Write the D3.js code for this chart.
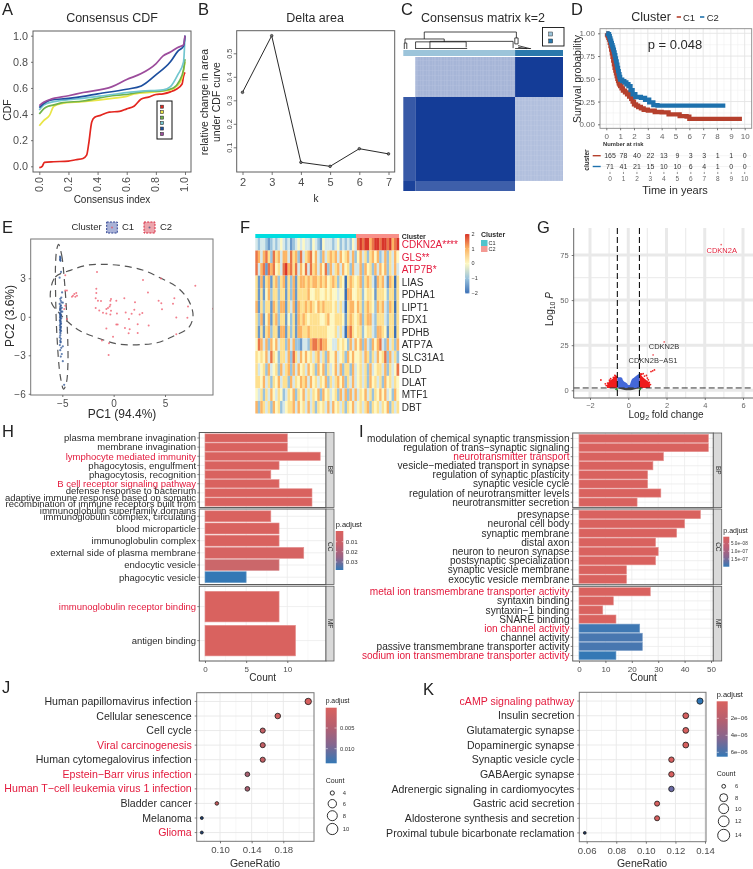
<!DOCTYPE html>
<html><head><meta charset="utf-8">
<script src="https://cdnjs.cloudflare.com/ajax/libs/d3/7.8.5/d3.min.js"></script>
<style>
html,body{margin:0;padding:0;background:#fff}
svg{display:block;filter:blur(.3px)}
text{font-family:"Liberation Sans",Arial,sans-serif}
</style></head><body>
<script>
/* ---------- A: consensus CDF ---------- */
const cdfRed=[[0,-.01],[.02,0],[.035,.03],[.1,.035],[.2,.04],[.25,.05],[.3,.06],[.325,.085],[.34,.18],[.36,.34],[.38,.375],[.42,.39],[.48,.415],[.55,.42],[.6,.44],[.65,.46],[.7,.515],[.75,.53],[.8,.55],[.85,.555],[.9,.57],[.94,.59],[.98,.63],[.99,.69],[1,.72]];
const cdfYellow=[[0,.31],[.03,.35],[.07,.39],[.1,.46],[.15,.48],[.3,.495],[.5,.52],[.6,.535],[.65,.555],[.8,.57],[.9,.585],[.95,.62],[.98,.68],[1,.8]];
const cdfGreen=[[0,.4],[.03,.44],[.06,.46],[.1,.47],[.15,.485],[.3,.5],[.5,.54],[.6,.55],[.7,.57],[.85,.58],[.92,.6],[.96,.65],[.99,.74],[1,.82]];
const cdfCyan=[[0,.43],[.03,.47],[.1,.495],[.2,.51],[.3,.52],[.5,.55],[.7,.575],[.85,.585],[.9,.61],[.95,.7],[.99,.8],[1,1]];
const cdfBlue=[[0,.45],[.03,.48],[.07,.505],[.2,.52],[.3,.535],[.4,.555],[.6,.59],[.7,.615],[.8,.7],[.9,.8],[.95,.88],[.99,.92],[1,1]];
const cdfPurple=[[0,.465],[.03,.49],[.07,.51],[.2,.54],[.3,.565],[.5,.61],[.6,.665],[.7,.71],[.8,.785],[.85,.845],[.9,.875],[.95,.91],[.99,.93],[1,1]];
const cdfSeries=[cdfRed,cdfYellow,cdfGreen,cdfCyan,cdfBlue,cdfPurple];
const cdfColors=["#e3261f","#e9e546","#6fb24a","#72c6cf","#1d4f9f","#9c4c9c"];
const cdfTicks=[0,.2,.4,.6,.8,1];

/* ---------- B: delta area ---------- */
const deltaK=[2,3,4,5,6,7];
const deltaV=[.334,.575,.036,.019,.094,.072];
const deltaTicks=[.1,.2,.3,.4,.5];

/* ---------- C: consensus matrix ---------- */
const matColSizes=[12,100,48];
const matRowSizes=[40,84,10];
const matValues=[[0,.38,1],[.85,1,.33],[.97,.82,0]];
const matTopColors=["#9cc4da","#2a78ac"];
const dendroSegs=[[21,1,113.3,1],[21,1,21,.59],[1.7,.59,41,.59],[1.7,.59,1.7,.35],[1,.35,3.5,.35],[1,.35,1,0],[3.5,.35,3.5,0],[41,.59,41,.42],[12.3,.42,63,.42],[12.3,.42,12.3,.02],[63,.42,63,.1],[26.7,.45,110,.45],[26.7,.45,26.7,.05],[110,.45,110,.05],[113.3,1,113.3,.65],[111.7,.65,115,.65],[111.7,.65,111.7,.3],[115,.65,115,.3],[111.7,.3,115,.3],[115,.2,127,.02],[115,.1,124,.02],[12,.03,64,.03],[112,.03,128,.03]];

/* ---------- D: survival ---------- */
const kmC1=[[0,1],[.05,.985],[.1,.97],[.15,.95],[.2,.93],[.25,.895],[.3,.86],[.35,.82],[.4,.78],[.45,.74],[.5,.7],[.55,.66],[.6,.62],[.65,.59],[.7,.56],[.75,.53],[.8,.5],[.85,.475],[.9,.45],[.95,.435],[1,.42],[1.1,.395],[1.2,.37],[1.35,.35],[1.5,.33],[1.65,.305],[1.8,.28],[1.9,.25],[2,.22],[2.15,.205],[2.3,.19],[2.5,.175],[2.7,.16],[3,.15],[3.5,.135],[4,.13],[4.5,.11],[5,.11],[5.3,.09],[5.8,.085],[6,.06],[9.8,.06]];
const kmC2=[[0,1],[.1,.99],[.2,.97],[.25,.945],[.3,.92],[.35,.895],[.4,.87],[.45,.845],[.5,.82],[.55,.79],[.6,.76],[.65,.725],[.7,.69],[.75,.655],[.8,.62],[.85,.585],[.9,.55],[.95,.52],[1,.49],[1.15,.475],[1.3,.46],[1.45,.44],[1.6,.42],[1.75,.375],[1.9,.33],[2.1,.3],[2.5,.29],[2.8,.27],[3.1,.24],[3.4,.21],[3.7,.205],[8.6,.205]];
const riskTimes=[0,1,2,3,4,5,6,7,8,9,10];
const riskC1=[165,78,40,22,13,9,3,3,1,1,0];
const riskC2=[71,41,21,15,10,10,6,4,1,0,0];
const kmYTicks=[0,.25,.5,.75,1];

/* ---------- E: PCA ---------- */
const pcaC2=[[-1.62,3.49],[-1.69,2.18],[-1.69,1.86],[-1.75,1.44],[-1.53,1.26],[-1.23,1.23],[-1.75,.68],[-1.4,.5],[-1.04,.31],[-.71,.26],[-.32,.18],[-.26,.47],[-.71,.6],[-.55,.68],[-.39,.81],[-.32,.94],[-.26,1.39],[-.32,1.26],[.26,1.26],[1.04,1.44],[2.08,1.13],[2.01,.55],[1.17,.34],[1.75,.24],[2.53,.18],[2.79,.29],[.32,.26],[1.49,-.18],[-.71,-.92],[.26,-.6],[.39,-.6],[1.1,-.87],[1.56,-.97],[1.46,-1.29],[2.34,-.58],[2.34,-1.26],[3.41,-.68],[-.06,-1.55],[-1.14,-1.84],[-.45,-2.07],[-.49,-2.97],[2.86,2.86],[4.61,2.99],[3.34,1.89],[4.38,1.26],[4.64,1.05],[4.71,.58],[5.91,1.44],[5.78,1.02],[7.24,.81],[7.95,2.41],[6.1,-.05],[7.18,-.08],[9.68,.63],[6.1,-1.36],[-4.06,1.57],[-3.96,1.65],[-3.83,1.78],[-3.64,1.86],[-3.57,1.65],[-3.73,1.57],[-4.71,2.05],[-4.55,2.05],[-4.71,3.23],[-4.55,-.18],[-4.71,.86],[-4.81,.6]];
const pcaC1=[[-5.2,4.62],[-5.18,4.55],[-5.22,4.48],[-5.2,4.42],[-5.17,4.36],[-5.22,4.7],[-5.12,3.5],[-5.26,3.05],[-5.02,1.9],[-5.1,1.5],[-5.2,1.4],[-5.15,1.25],[-5.08,1.12],[-5.25,1],[-5.14,.9],[-5.2,.75],[-5.05,.7],[-5.16,.6],[-5.22,.52],[-5.1,.42],[-5.18,.33],[-5.24,.25],[-5.12,.18],[-5.2,.1],[-5.15,.02],[-5.22,-.05],[-5.1,-.12],[-5.18,-.2],[-5.24,-.28],[-5.15,-.36],[-5.2,-.44],[-5.12,-.52],[-5.18,-.6],[-5.24,-.68],[-5.14,-.76],[-5.2,-.84],[-5.16,-.92],[-5.22,-1],[-5.12,-1.1],[-5.2,-1.45],[-5.24,-1.6],[-5.14,-1.72],[-5.2,-1.85],[-5.17,-2],[-5.24,-2.2],[-5.1,-2.42],[-5.2,-2.6],[-5.05,-2.9],[-4.95,-3.46],[-5.15,-3.1],[-4.82,-5.3],[-4.95,-2.3],[-5,.4],[-4.95,1.1],[-5.18,.05],[-5.2,-.3],[-5.17,-.55],[-5.15,-.8],[-5.2,-1.2],[-5.18,-1.3],[-5.16,-1.95],[-5.18,-.1],[-5.2,.2],[-5.22,.62],[-5.16,.85],[-5.18,-1.05]];
const ellipseC2=[[-6.17,1.78],[-5.68,3.1],[-4.22,3.62],[-2.6,4.02],[-.97,4.09],[.97,3.96],[2.92,3.62],[4.55,3.02],[6.17,2.31],[7.31,1.26],[7.73,.08],[7.31,-.84],[5.84,-1.5],[4.22,-2.02],[2.27,-2.18],[.32,-2.1],[-1.62,-1.63],[-3.25,-1.1],[-4.38,-.45],[-5.36,.34],[-6,1]];
const ellipseC1=[[-5.36,5.64],[-5.06,4.8],[-4.81,2.97],[-4.55,-.18],[-4.45,-3.6],[-4.61,-5.17],[-4.87,-5.64],[-5.19,-4.65],[-5.52,-1.5],[-5.65,1.65],[-5.65,4.28],[-5.52,5.33]];

/* ---------- F: heatmap (digit 0..8 stands for -2..2) ---------- */
const heatGenes=["CDKN2A****","GLS**","ATP7B*","LIAS","PDHA1","LIPT1","FDX1","PDHB","ATP7A","SLC31A1","DLD","DLAT","MTF1","DBT"];
const heatRed=new Set(["CDKN2A****","GLS**","ATP7B*"]);
const heatRows=[
"32332123234323123434332432143332342323243"+"78788678878878678",
"76367527563663756273567463263565636456362"+"46352564623625364",
"73671767453786757364737563647263563645263"+"36264526364625363",
"51615615625615261566565665656456525405654"+"56256531656316505",
"51514625525515261555564455445454434406644"+"55245541555425515",
"61525516526615361655656546565554535305664"+"65256542656326505",
"52614615625514251656545555445644555415654"+"56256632555325515",
"51515625516615251665565555555444535306754"+"55245532665415505",
"47636264635526362213326776766443354542636"+"46263264673263526",
"54546375425536275364645356352644634526464"+"45365253645726352",
"53452634526356263645364526462534636255263"+"45352634553625347",
"55463525463552635465636453546253564625363"+"45352645352645354",
"43525364354235462546353546264534526362636"+"35463525464634264",
"62653526452345563645363525453636453525463"+"45356254535462535"];
const heatLevels=[-2,-1.5,-1,-.5,0,.5,1,1.5,2];
const heatBar=[2,1,0,-1,-2];

/* ---------- G: volcano ---------- */
const volcLabels=[["CDKN2A",4.86,80.8,"#e3263f"],["CDKN2B",1.88,26.8,"#333"],["CDKN2B\u2212AS1",1.3,19.6,"#333"]];
const volcBlueTop=[[-.57,7.2],[-.45,7.2],[-.33,7],[-.28,5.7],[-.15,4.4],[-.07,3.9],[0,2.9],[.07,2.9],[.13,4.6],[.19,6.1],[.3,7],[.37,7.6],[.45,8.4],[.52,8.8],[.59,9.4]];
const volcBase=1.3;
const volcLeftTop=[[-1.11,3],[-1.02,4.8],[-.85,6.1],[-.72,7.6],[-.66,8.5],[-.57,7.6]];
const volcRightTop=[[.58,9.4],[.68,8.4],[.76,7.4],[.89,6.1],[1.02,5],[1.12,4],[1.14,2.2]];
const volcGrey=[[-.62,1.3],[-.4,.7],[-.2,.2],[0,0],[.2,.2],[.4,.7],[.62,1.3]];
const volcRedDots=[[-1.43,5.7],[-1.2,3.6],[-1.15,2.6],[-1.08,4],[-.98,5.6],[-.92,6.4],[-.78,7.2],[-.7,8.3],[-.65,6.9],[1.19,10.4],[1.37,11.3],[1.28,10.8],[.78,9.2],[.95,8.2],[.85,7.9],[.66,9.1],[1.05,5.8],[1.1,4.4],[1.16,3.2],[.7,8.9],[1,6.8]];
const volcGreen=[[-.64,.6],[-.6,.9],[-.59,.4],[.6,.8],[.62,.5],[.64,1]];
const volcXTicks=[-2,0,2,4,6];
const volcYTicks=[0,25,50,75];

/* ---------- H: GO bars (immune) ---------- */
const hBP=["plasma membrane invagination","membrane invagination","lymphocyte mediated immunity","phagocytosis, engulfment","phagocytosis, recognition","B cell receptor signaling pathway","defense response to bacterium","adaptive immune response based on somatic|recombination of immune receptors built from|immunoglobulin superfamily domains"];
const hBPv=[10,10,14,9,8,9,13,13];
const hBPp=[.004,.004,.004,.004,.004,.004,.004,.004];
const hCC=["immunoglobulin complex, circulating","blood microparticle","immunoglobulin complex","external side of plasma membrane","endocytic vesicle","phagocytic vesicle"];
const hCCv=[8,9,9,12,9,5];
const hCCp=[.004,.004,.004,.005,.008,.036];
const hMF=["immunoglobulin receptor binding","antigen binding"];
const hMFv=[9,11];
const hMFp=[.004,.004];
const hRed=new Set(["lymphocyte mediated immunity","B cell receptor signaling pathway","immunoglobulin receptor binding"]);
const hTicks=[0,5,10];

/* ---------- I: GO bars (synaptic) ---------- */
const iBP=["modulation of chemical synaptic transmission","regulation of trans\u2212synaptic signaling","neurotransmitter transport","vesicle\u2212mediated transport in synapse","regulation of synaptic plasticity","synaptic vesicle cycle","regulation of neurotransmitter levels","neurotransmitter secretion"];
const iBPv=[49,49,32,28,26,26,31,22];
const iBPp=[1e-8,1e-8,1e-8,1e-8,1e-8,1e-8,1e-8,1e-8];
const iCC=["presynapse","neuronal cell body","synaptic membrane","distal axon","neuron to neuron synapse","postsynaptic specialization","synaptic vesicle membrane","exocytic vesicle membrane"];
const iCCv=[46,40,37,29,30,29,18,18];
const iCCp=[1e-8,1e-8,1e-8,1e-8,1e-8,1e-8,1e-8,1e-8];
const iMF=["metal ion transmembrane transporter activity","syntaxin binding","syntaxin\u22121 binding","SNARE binding","ion channel activity","channel activity","passive transmembrane transporter activity","sodium ion transmembrane transporter activity"];
const iMFv=[27,13,9,14,23,24,24,14];
const iMFp=[1e-8,1e-8,1e-8,1e-8,1.9e-7,1.85e-7,1.85e-7,1.95e-7];
const iRed=new Set(["neurotransmitter transport","metal ion transmembrane transporter activity","ion channel activity","sodium ion transmembrane transporter activity"]);
const iTicks=[0,10,20,30,40,50];

/* ---------- J: KEGG dots ---------- */
const jTerms=["Human papillomavirus infection","Cellular senescence","Cell cycle","Viral carcinogenesis","Human cytomegalovirus infection","Epstein\u2212Barr virus infection","Human T\u2212cell leukemia virus 1 infection","Bladder cancer","Melanoma","Glioma"];
const jRatio=[.2115,.173,.154,.154,.154,.1346,.1346,.096,.077,.077];
const jCount=[11,9,8,8,8,7,7,5,4,4];
const jFill=["#d6605f","#d05f60","#c25f64","#c25f64","#c25f64","#a85f70","#a85f70","#c2585a","#1f3f70","#1f3f70"];
const jRed=new Set(["Viral carcinogenesis","Epstein\u2212Barr virus infection","Human T\u2212cell leukemia virus 1 infection","Glioma"]);
const jTicks=[.10,.14,.18];

/* ---------- K: KEGG dots ---------- */
const kTerms=["cAMP signaling pathway","Insulin secretion","Glutamatergic synapse","Dopaminergic synapse","Synaptic vesicle cycle","GABAergic synapse","Adrenergic signaling in cardiomyocytes","Gastric acid secretion","Aldosterone synthesis and secretion","Proximal tubule bicarbonate reclamation"];
const kRatio=[.1366,.127,.127,.127,.1173,.1173,.1173,.1076,.1076,.0587];
const kCount=[14,13,13,13,12,12,12,11,11,6];
const kFill=["#2f75b5","#d6605f","#d6605f","#d6605f","#d6605f","#d6605f","#6a6aa5","#d6605f","#d6605f","#22375f"];
const kRed=new Set(["cAMP signaling pathway"]);
const kTicks=[.06,.08,.10,.12,.14];

/* ---------- drawing ---------- */
const svg=d3.select("body").append("svg").attr("width",753).attr("height",869);
const defs=svg.append("defs");
const DARK="#2a2a2a",GREY="#4d4d4d",RED="#e3193c",FRAME="#6e6e6e";
function T(x,y,s,o={}){
  const t=svg.append("text").attr("x",x).attr("y",y).text(s)
    .attr("font-size",o.fs||10).attr("fill",o.fill||DARK).attr("text-anchor",o.a||"start");
  if(o.w)t.attr("font-weight",o.w);
  if(o.rot!=null)t.attr("transform",`rotate(${o.rot},${x},${y})`);
  return t;
}
function box(x0,y0,x1,y1,stroke=FRAME,sw=1,fill="none"){
  return svg.append("rect").attr("x",x0).attr("y",y0).attr("width",x1-x0).attr("height",y1-y0)
    .attr("fill",fill).attr("stroke",stroke).attr("stroke-width",sw);
}
function drawAxis(gen,x,y,o={}){
  const g=svg.append("g").attr("transform",`translate(${x},${y})`).call(gen);
  g.select(".domain").remove();
  g.selectAll(".tick line").attr("stroke",o.tickColor||"#555").attr("stroke-width",.8);
  g.selectAll("text").attr("font-size",o.fs||9).attr("fill",o.fill||GREY)
    .attr("font-family",'"Liberation Sans",Arial,sans-serif');
  return g;
}
function grid(g,sx,sy,xs,ys,x0,x1,y0,y1,col,w){
  xs.forEach(v=>g.append("line").attr("x1",sx(v)).attr("x2",sx(v)).attr("y1",y0).attr("y2",y1).attr("stroke",col).attr("stroke-width",w));
  ys.forEach(v=>g.append("line").attr("y1",sy(v)).attr("y2",sy(v)).attr("x1",x0).attr("x2",x1).attr("stroke",col).attr("stroke-width",w));
}
function colorBar(id,x,y,w,h,cols,labels,lx,fs){
  const lg=defs.append("linearGradient").attr("id",id).attr("x1",0).attr("x2",0).attr("y1",0).attr("y2",1);
  cols.forEach((c,i)=>lg.append("stop").attr("offset",i/(cols.length-1)).attr("stop-color",c));
  svg.append("rect").attr("x",x).attr("y",y).attr("width",w).attr("height",h).attr("fill",`url(#${id})`);
  labels.forEach(l=>{
    T(lx,l[1]+fs*.35,l[0],{fs,fill:"#333"});
    svg.append("line").attr("x1",x).attr("x2",x+w*.2).attr("y1",l[1]).attr("y2",l[1]).attr("stroke","#fff").attr("stroke-width",.5);
    svg.append("line").attr("x1",x+w*.8).attr("x2",x+w).attr("y1",l[1]).attr("y2",l[1]).attr("stroke","#fff").attr("stroke-width",.5);
  });
}
/* panel letters */
[["A",2,15],["B",198,15],["C",401,15],["D",571,15],["E",2,232.5],["F",240,232.5],["G",537,232.5],["H",2,437],["I",359,437],["J",2,693],["K",423,695]]
 .forEach(d=>T(d[1],d[2],d[0],{fs:16.5,fill:"#222"}));

/* A */
(function(){
  const x=d3.scaleLinear([0,1],[39.3,185]),y=d3.scaleLinear([0,1],[166.3,35.7]);
  const line=d3.line(d=>x(d[0]),d=>y(d[1])).curve(d3.curveMonotoneX);
  cdfSeries.forEach((s,i)=>svg.append("path").attr("d",line(s)).attr("fill","none").attr("stroke",cdfColors[i]).attr("stroke-width",1.7));
  box(33,31,191,172,"#5f5f5f",1);
  const gx=drawAxis(d3.axisBottom(x).tickValues(cdfTicks).tickFormat(d3.format(".1f")).tickSize(3),0,172,{fs:10.8});
  gx.selectAll("text").attr("transform","rotate(-90)").attr("text-anchor","end").attr("x",-5).attr("y",-1).attr("dy",".35em");
  drawAxis(d3.axisLeft(y).tickValues(cdfTicks).tickFormat(d3.format(".1f")).tickSize(2),33,0,{fs:10.8});
  T(112,22,"Consensus CDF",{fs:12.5,a:"middle"});
  T(112,203,"Consensus index",{fs:10,a:"middle"});
  T(11,110,"CDF",{fs:10.5,a:"middle",rot:-90});
  box(157,101,172,139,"#111",1,"#fff");
  const ly=d3.scalePoint(d3.range(6),[106.7,134]);
  cdfColors.forEach((c,i)=>svg.append("rect").attr("x",160.5).attr("y",ly(i)-1.5).attr("width",3).attr("height",3).attr("fill",c).attr("stroke","#333").attr("stroke-width",.6));
})();

/* B */
(function(){
  const x=d3.scaleLinear([2,7],[242.5,388.5]),y=d3.scaleLinear([.1,.5],[147.3,53.3]);
  const pts=deltaK.map((k,i)=>[k,deltaV[i]]);
  svg.append("path").attr("d",d3.line(d=>x(d[0]),d=>y(d[1]))(pts)).attr("fill","none").attr("stroke","#111").attr("stroke-width",.9);
  svg.selectAll(null).data(pts).join("circle").attr("cx",d=>x(d[0])).attr("cy",d=>y(d[1])).attr("r",1.3).attr("fill","#777").attr("stroke","#111").attr("stroke-width",.6);
  box(236.7,30.7,394.7,172,"#5f5f5f",1);
  drawAxis(d3.axisBottom(x).tickValues(deltaK).tickFormat(d3.format("d")).tickSize(3),0,172,{fs:11});
  const gy=drawAxis(d3.axisLeft(y).tickValues(deltaTicks).tickFormat(d3.format(".1f")).tickSize(3),236.7,0,{fs:7.2});
  gy.selectAll("text").attr("transform","rotate(-90)").attr("text-anchor","middle").attr("x",0).attr("y",-5).attr("dy",0);
  gy.selectAll(".tick text").each(function(){d3.select(this).attr("dy","0")});
  T(315,22,"Delta area",{fs:12.5,a:"middle"});
  T(316,202,"k",{fs:10,a:"middle"});
  T(208,102,"relative change in area",{fs:10.5,a:"middle",rot:-90});
  T(220,102,"under CDF curve",{fs:10.5,a:"middle",rot:-90});
})();

/* C */
(function(){
  const X=d3.scaleLinear([0,160],[403.3,563]),H=d3.scaleLinear([0,1],[49,32]);
  dendroSegs.forEach(s=>svg.append("line").attr("x1",X(s[0])).attr("y1",H(s[1])).attr("x2",X(s[2])).attr("y2",H(s[3])).attr("stroke","#1a1a1a").attr("stroke-width",.8));
  const colEdges=d3.cumsum([0,...matColSizes]),rowEdges=d3.cumsum([0,...matRowSizes]);
  const xm=d3.scaleLinear([0,160],[403.3,563]),ym=d3.scaleLinear([0,134],[57,191]);
  const col=d3.scaleLinear([0,1],["#ffffff","#143c97"]);
  const pat=defs.append("pattern").attr("id","tex").attr("width",6).attr("height",5).attr("patternUnits","userSpaceOnUse");
  pat.append("path").attr("d","M0 0H6M0 0V5M3 0V5").attr("stroke","#fff").attr("stroke-width",.6).attr("opacity",.22);
  matValues.forEach((row,r)=>row.forEach((v,c)=>{
    const a=[xm(colEdges[c]),ym(rowEdges[r]),xm(colEdges[c+1])-xm(colEdges[c]),ym(rowEdges[r+1])-ym(rowEdges[r])];
    svg.append("rect").attr("x",a[0]).attr("y",a[1]).attr("width",a[2]).attr("height",a[3]).attr("fill",col(v));
    if(v>.2&&v<.7)svg.append("rect").attr("x",a[0]).attr("y",a[1]).attr("width",a[2]).attr("height",a[3]).attr("fill","url(#tex)");
  }));
  const barEdges=[0,112,160];
  matTopColors.forEach((c,i)=>svg.append("rect").attr("x",xm(barEdges[i])).attr("y",50).attr("height",6).attr("width",xm(barEdges[i+1])-xm(barEdges[i])).attr("fill",c));
  T(483,22,"Consensus matrix k=2",{fs:12.5,a:"middle"});
  box(542.5,27.5,564,46,"#111",.9,"#fff");
  matTopColors.forEach((c,i)=>svg.append("rect").attr("x",548.7).attr("y",32+i*7).attr("width",4).attr("height",4).attr("fill",c).attr("stroke","#333").attr("stroke-width",.5));
})();

/* D */
(function(){
  const x=d3.scaleLinear([0,10],[606.3,744.7]),y=d3.scaleLinear([0,1],[124.3,33.3]);
  const g=svg.append("g");
  grid(g,x,y,[.5,1.5,2.5,3.5,4.5,5.5,6.5,7.5,8.5,9.5],[.125,.375,.625,.875],600,751.7,28.7,128.3,"#efefef",.5);
  grid(g,x,y,d3.range(0,11),kmYTicks,600,751.7,28.7,128.3,"#e4e4e4",.9);
  const line=d3.line(d=>x(d[0]),d=>y(d[1])).curve(d3.curveStepAfter);
  [[kmC1,"#b5402d"],[kmC2,"#1e71ad"]].forEach(s=>svg.append("path").attr("d",line(s[0])).attr("fill","none").attr("stroke",s[1]).attr("stroke-width",4.3));
  box(600,28.7,751.7,128.3,"#888",.9);
  drawAxis(d3.axisBottom(x).tickValues(riskTimes).tickFormat(d3.format("d")).tickSize(2),0,128.3,{fs:8,fill:"#666"});
  drawAxis(d3.axisLeft(y).tickValues(kmYTicks).tickFormat(d3.format(".2f")).tickSize(2),600,0,{fs:8,fill:"#666"});
  T(651,21,"Cluster",{fs:12.5,a:"middle"});
  svg.append("line").attr("x1",676.7).attr("x2",681).attr("y1",17).attr("y2",17).attr("stroke","#b5402d").attr("stroke-width",1.6);
  T(683,21,"C1",{fs:9.5});
  svg.append("line").attr("x1",700).attr("x2",704.3).attr("y1",17).attr("y2",17).attr("stroke","#1e71ad").attr("stroke-width",1.6);
  T(706.7,21,"C2",{fs:9.5});
  T(675,49,"p = 0.048",{fs:13,a:"middle"});
  T(580.5,79,"Survival probability",{fs:10.5,a:"middle",rot:-90});
  T(603,146,"Number at risk",{fs:5.8,w:"bold",fill:"#333"});
  const xr=d3.scaleLinear([0,10],[610,744.7]);
  const gr=svg.append("g");
  grid(gr,xr,d=>d,riskTimes,[155.7,166.5],600,751,150,172,"#f1f1f1",.8);
  [[riskC1,155.7,"#b5402d"],[riskC2,166.5,"#1e71ad"]].forEach(r=>{
    svg.append("line").attr("x1",592.7).attr("x2",600.7).attr("y1",r[1]).attr("y2",r[1]).attr("stroke",r[2]).attr("stroke-width",1.4);
    r[0].forEach((v,i)=>T(xr(riskTimes[i]),r[1]+2.5,v,{fs:7,a:"middle",fill:"#333"}));
  });
  riskTimes.forEach(t=>{
    svg.append("line").attr("x1",xr(t)).attr("x2",xr(t)).attr("y1",172).attr("y2",174).attr("stroke","#666").attr("stroke-width",.7);
    T(xr(t),181,t,{fs:6.5,a:"middle",fill:"#666"});
  });
  T(589,160,"cluster",{fs:6.5,a:"middle",rot:-90,w:"bold"});
  T(675,194,"Time in years",{fs:11,a:"middle"});
})();

/* E */
(function(){
  const x=d3.scaleLinear([-5,5],[62.3,165]),y=d3.scaleLinear([-3,3],[355.3,278.3]);
  const cl=defs.append("clipPath").attr("id","clipE");
  cl.append("rect").attr("x",30.7).attr("y",239).attr("width",182.3).attr("height",156);
  const g=svg.append("g").attr("clip-path","url(#clipE)");
  const xy=d3.line(d=>x(d[0]),d=>y(d[1])).curve(d3.curveCatmullRomClosed.alpha(.5));
  [ellipseC1,ellipseC2].forEach(s=>g.append("path").attr("d",xy(s)).attr("fill","none").attr("stroke","#555").attr("stroke-width",1.2).attr("stroke-dasharray","7 5"));
  g.selectAll(null).data(pcaC1).join("circle").attr("cx",d=>x(d[0])).attr("cy",d=>y(d[1])).attr("r",1.1).attr("fill","#2f5595").attr("opacity",.75);
  g.selectAll(null).data(pcaC2).join("circle").attr("cx",d=>x(d[0])).attr("cy",d=>y(d[1])).attr("r",1).attr("fill","#ef5f70").attr("opacity",.8);
  box(30.7,239,213,395,"#777",1);
  drawAxis(d3.axisBottom(x).tickValues([-5,0,5]).tickFormat(d3.format("d")).tickSize(2),0,395,{fs:10});
  drawAxis(d3.axisLeft(y).tickValues([-6,-3,0,3]).tickFormat(d3.format("d")).tickSize(2),30.7,0,{fs:10});
  T(122,418,"PC1 (94.4%)",{fs:12,a:"middle"});
  T(14,316,"PC2 (3.6%)",{fs:12,a:"middle",rot:-90});
  T(71.5,230,"Cluster",{fs:9.5});
  svg.append("rect").attr("x",106.7).attr("y",222).attr("width",10.6).attr("height",11).attr("fill","#a9b2d7").attr("stroke","#2a3f8f").attr("stroke-dasharray","2 1.2");
  svg.append("circle").attr("cx",112).attr("cy",227.5).attr("r",1).attr("fill","#d66a80");
  T(122,230,"C1",{fs:9.5});
  svg.append("rect").attr("x",144).attr("y",222).attr("width",11).attr("height",11).attr("fill","#eda5ad").attr("stroke","#d8283f").attr("stroke-dasharray","2 1.2");
  svg.append("circle").attr("cx",149.5).attr("cy",227.5).attr("r",1).attr("fill","#668");
  T(160,230,"C2",{fs:9.5});
})();

/* F */
(function(){
  const c=d3.scaleLinear([-2,-1,-.5,0,.5,1,2],["#3c70b6","#9ac3dd","#d5e8ea","#fdf8c3","#fee08f","#fcb565","#d8352a"]);
  const y=d3.scaleBand(d3.range(heatGenes.length),[238,413.5]);
  heatRows.forEach((s,r)=>{
    const x=d3.scaleBand(d3.range(s.length),[255.3,399]);
    svg.selectAll(null).data(s.split("")).join("rect").attr("x",(d,i)=>x(i)).attr("y",y(r)).attr("width",x.bandwidth()+.2).attr("height",y.bandwidth())
      .attr("fill",d=>c(heatLevels[+d]));
  });
  svg.append("rect").attr("x",255.3).attr("y",234).attr("width",100.7).attr("height",4).attr("fill","#00dde0");
  svg.append("rect").attr("x",356).attr("y",234).attr("width",43).attr("height",4).attr("fill","#f8908a");
  T(401.7,238.5,"Cluster",{fs:7,w:"bold"});
  heatGenes.forEach((g,i)=>T(401.7,y(i)+y.bandwidth()/2+3.7,g,{fs:10,fill:heatRed.has(g)?RED:DARK}));
  const cy=d3.scalePoint(heatBar,[234,293]);
  colorBar("hm",465,234,4.4,59.4,heatBar.map(v=>c(v)),heatBar.map(v=>[String(v).replace("-","\u2212"),cy(v)]),471.5,5.5);
  T(481,236.5,"Cluster",{fs:7,w:"bold"});
  svg.append("rect").attr("x",481).attr("y",240).attr("width",6.5).attr("height",6).attr("fill","#4fc4cc");
  svg.append("rect").attr("x",481).attr("y",246).attr("width",6.5).attr("height",6).attr("fill","#f49a94");
  T(488.5,245,"C1",{fs:5.5});T(488.5,251,"C2",{fs:5.5});
})();

/* G */
(function(){
  const x=d3.scaleLinear([-2,6],[590,743]),y=d3.scaleLinear([0,75],[390.3,255]);
  const g=svg.append("g");
  const xl=573.7,xr=753,yt=228,yb=398;
  grid(g,x,y,[-1,1,3,5],[12.5,37.5,62.5],xl,xr,yt,yb,"#ededed",1.3);
  grid(g,x,y,volcXTicks,volcYTicks,xl,xr,yt,yb,"#e9e9e9",3);
  const area=(top,base)=>d3.area(d=>x(d[0]),y(base),d=>y(d[1])).curve(d3.curveMonotoneX)(top);
  svg.append("path").attr("d",area(volcGrey,1.4)).attr("fill","#444");
  svg.append("path").attr("d",area(volcLeftTop,1.3)).attr("fill","#ee1c1c");
  svg.append("path").attr("d",area(volcRightTop,1.3)).attr("fill","#ee1c1c");
  svg.append("path").attr("d",area(volcBlueTop,volcBase)).attr("fill","#4468d8");
  svg.selectAll(null).data(volcRedDots).join("circle").attr("cx",d=>x(d[0])).attr("cy",d=>y(d[1])).attr("r",.9).attr("fill","#ee1c1c");
  svg.selectAll(null).data(volcGreen).join("circle").attr("cx",d=>x(d[0])).attr("cy",d=>y(d[1])).attr("r",.9).attr("fill","#2e9a38");
  volcLabels.forEach(l=>svg.append("circle").attr("cx",x(l[1])).attr("cy",y(l[2])).attr("r",.9).attr("fill","#f06a70"));
  [-.57,.585].forEach(v=>svg.append("line").attr("x1",x(v)).attr("x2",x(v)).attr("y1",yt).attr("y2",yb).attr("stroke","#111").attr("stroke-width",1.1).attr("stroke-dasharray","6 3"));
  svg.append("line").attr("x1",xl).attr("x2",xr).attr("y1",y(1.3)).attr("y2",y(1.3)).attr("stroke","#333").attr("stroke-width",1).attr("stroke-dasharray","6 3");
  svg.append("path").attr("d",`M${xl} ${yt}V${yb}H${xr}`).attr("fill","none").attr("stroke","#555").attr("stroke-width",.9);
  drawAxis(d3.axisBottom(x).tickValues(volcXTicks).tickSize(2),0,yb,{fs:7.5,fill:"#666"});
  drawAxis(d3.axisLeft(y).tickValues(volcYTicks).tickSize(2),xl,0,{fs:7.5,fill:"#666"});
  const lab=[[721.7,252.5],[664,349],[653,362.5]];
  volcLabels.forEach((l,i)=>T(lab[i][0],lab[i][1],l[0],{fs:7.5,a:"middle",fill:l[3]}));
  const t=T(666,418,"",{fs:10,a:"middle"});
  t.append("tspan").text("Log");t.append("tspan").text("2").attr("font-size",7).attr("dy",2);t.append("tspan").text(" fold change").attr("dy",-2);
  const t2=T(553,309,"",{fs:10,a:"middle",rot:-90});
  t2.append("tspan").text("Log");t2.append("tspan").text("10").attr("font-size",7).attr("dy",2);t2.append("tspan").text(" P").attr("dy",-2).attr("font-style","italic");
})();

/* H / I facets */
const pColor=(dom)=>d3.scaleLinear(dom,["#d9625f","#3478b5"]).interpolate(d3.interpolateLab).clamp(true);
function facetBars(o){
  const x=d3.scaleLinear([0,o.maxTick],[o.x0,o.xTickEnd]);
  o.panels.forEach((p,pi)=>{
    const y=d3.scalePoint(p.cats,[p.y0,p.y1]).padding(.6);
    const g=svg.append("g");
    grid(g,x,y,o.minor,[],o.left,o.right,p.y0,p.y1,"#f2f2f2",.5);
    grid(g,x,y,o.ticks,p.cats,o.left,o.right,p.y0,p.y1,"#ebebeb",.8);
    const h=y.step()*.9;
    svg.selectAll(null).data(p.vals).join("rect").attr("x",x(0)).attr("y",(d,i)=>y(p.cats[i])-h/2).attr("width",d=>x(d)-x(0)).attr("height",h)
      .attr("fill",(d,i)=>o.color(p.p[i])).attr("stroke",(d,i)=>d3.interpolateRgb(o.color(p.p[i]),"#fff")(.3)).attr("stroke-width",.6);
    box(o.left,p.y0,o.right,p.y1,"#5c5c5c",1);
    box(o.right,p.y0,o.strip,p.y1,"#5c5c5c",.8,"#d9d9d9");
    T((o.right+o.strip)/2-2,(p.y0+p.y1)/2,p.name,{fs:6.5,a:"middle",rot:90,fill:"#333"});
    p.cats.forEach((c,i)=>{
      const yy=y(c);
      svg.append("line").attr("x1",o.left-2).attr("x2",o.left).attr("y1",yy).attr("y2",yy).attr("stroke","#555").attr("stroke-width",.7);
      const lines=c.split("|");
      const fill=o.red.has(c)?RED:DARK;
      if(lines.length===1)T(o.left-3.2,yy+o.fs*.35+(p.nudge?p.nudge[i]:0),c,{fs:o.fs,a:"end",fill});
      else lines.forEach((l,k)=>T(o.left-3.2,yy+o.fs*.35+[-4.8,1.5,8.6][k],l,{fs:o.fs,a:"end",fill}));
    });
  });
  const last=o.panels[o.panels.length-1].y1;
  drawAxis(d3.axisBottom(x).tickValues(o.ticks).tickSize(2),0,last,{fs:8});
  T(o.labelX,681,"Count",{fs:10,a:"middle"});
}
facetBars({x0:205,xTickEnd:287.3,maxTick:10,left:199.3,right:326,strip:334,fs:9.5,labelX:262.7,ticks:hTicks,minor:[2.5,7.5,12.5],red:hRed,color:pColor([.004,.036]),
  panels:[{name:"BP",cats:hBP,vals:hBPv,p:hBPp,y0:432.5,y1:507.5,nudge:[0,0,0,0,0,0,-1.7,0]},
          {name:"CC",cats:hCC,vals:hCCv,p:hCCp,y0:509,y1:584.5},
          {name:"MF",cats:hMF,vals:hMFv,p:hMFp,y0:586.2,y1:661}]});
T(335.7,527,"p.adjust",{fs:7.5,fill:"#222"});
colorBar("cbH",335.7,531,7.6,39,["#d9625f","#c9606a","#9a6385","#3478b5"],[["0.01",541.7],["0.02",551.7],["0.03",562]],345.7,6.2);
facetBars({x0:579,xTickEnd:711,maxTick:50,left:572.7,right:713.3,strip:721.7,fs:10.1,labelX:643.5,ticks:iTicks,minor:[5,15,25,35,45],red:iRed,color:pColor([1e-8,1.95e-7]),
  panels:[{name:"BP",cats:iBP,vals:iBPv,p:iBPp,y0:433,y1:507.6},
          {name:"CC",cats:iCC,vals:iCCv,p:iCCp,y0:509,y1:584.7},
          {name:"MF",cats:iMF,vals:iMFv,p:iMFp,y0:586.3,y1:661}]});
T(723.3,533,"p.adjust",{fs:7,fill:"#222"});
colorBar("cbI",723.3,536.7,6,30,["#d9625f","#c06075","#8a6690","#3478b5"],[["5.0e\u221208",543.7],["1.0e\u221207",551.3],["1.5e\u221207",559]],731,4.6);

/* J / K dots */
function dots(o){
  const x=d3.scaleLinear(o.xDom,o.xRange);
  const y=d3.scalePoint(o.terms,[o.y0,o.y1]).padding(.6);
  const g=svg.append("g");
  grid(g,x,y,o.minor,[],o.left,o.right,o.y0,o.y1,"#f2f2f2",.6);
  grid(g,x,y,o.ticks,o.terms,o.left,o.right,o.y0,o.y1,"#e8e8e8",.9);
  svg.selectAll(null).data(o.terms).join("circle").attr("cx",(d,i)=>x(o.ratio[i])).attr("cy",d=>y(d))
    .attr("r",(d,i)=>o.r(o.count[i])).attr("fill",(d,i)=>o.fill[i]).attr("stroke","#1a1a1a").attr("stroke-width",.8);
  box(o.left,o.y0,o.right,o.y1,"#777",1);
  drawAxis(d3.axisBottom(x).tickValues(o.ticks).tickFormat(d3.format(".2f")).tickSize(2),0,o.y1,{fs:9.6});
  o.terms.forEach(t=>{
    svg.append("line").attr("x1",o.left-2).attr("x2",o.left).attr("y1",y(t)).attr("y2",y(t)).attr("stroke","#555").attr("stroke-width",.7);
    T(o.left-5,y(t)+3.6,t,{fs:o.fs,a:"end",fill:o.red.has(t)?RED:DARK});
  });
  T(o.labelX,867,"GeneRatio",{fs:10.5,a:"middle"});
}
dots({terms:jTerms,ratio:jRatio,count:jCount,fill:jFill,red:jRed,ticks:jTicks,minor:[.08,.12,.16,.20],xDom:[.10,.18],xRange:[220,283.3],left:196.7,right:314,y0:692.7,y1:841.3,fs:10.6,labelX:255,r:d3.scaleSqrt([4,11],[1.5,3.2])});
dots({terms:kTerms,ratio:kRatio,count:kCount,fill:kFill,red:kRed,ticks:kTicks,minor:[.07,.09,.11,.13],xDom:[.06,.14],xRange:[586.7,705],left:579.3,right:706,y0:692.3,y1:841.7,fs:10.55,labelX:642,r:d3.scaleSqrt([6,14],[1.4,3.1])});
T(325.7,703,"p.adjust",{fs:6.8,fill:"#222"});
colorBar("cbJ",325.7,707.7,11,55.6,["#d9625f","#b65f6f","#84668f","#3478b5"],[["0.005",728],["0.010",748.7]],340,5.8);
T(325.7,782.5,"Count",{fs:7,fill:"#222"});
[[4,793,2.1],[6,803.7,4.2],[8,815.7,5],[10,829,5.6]].forEach(d=>{
  svg.append("circle").attr("cx",332.3).attr("cy",d[1]).attr("r",d[2]).attr("fill","none").attr("stroke","#1a1a1a").attr("stroke-width",.9);
  T(342.7,d[1]+2,d[0],{fs:5.8,fill:"#333"});
});
T(716.7,696.7,"p.adjust",{fs:7.5,fill:"#222"});
colorBar("cbK",716.7,701.3,11,55.4,["#d9625f","#b65f6f","#84668f","#3478b5"],[["2e\u221206",718.3],["4e\u221206",735.3],["6e\u221206",752.3]],730.7,6);
T(716.7,776,"Count",{fs:7,fill:"#222"});
[[6,786.3,1.9],[8,797.7,4],[10,808.7,4.9],[12,821.3,5.4],[14,835.3,6]].forEach(d=>{
  svg.append("circle").attr("cx",723.7).attr("cy",d[1]).attr("r",d[2]).attr("fill","none").attr("stroke","#1a1a1a").attr("stroke-width",.9);
  T(735,d[1]+2,d[0],{fs:5.8,fill:"#333"});
});
</script>
</body></html>
